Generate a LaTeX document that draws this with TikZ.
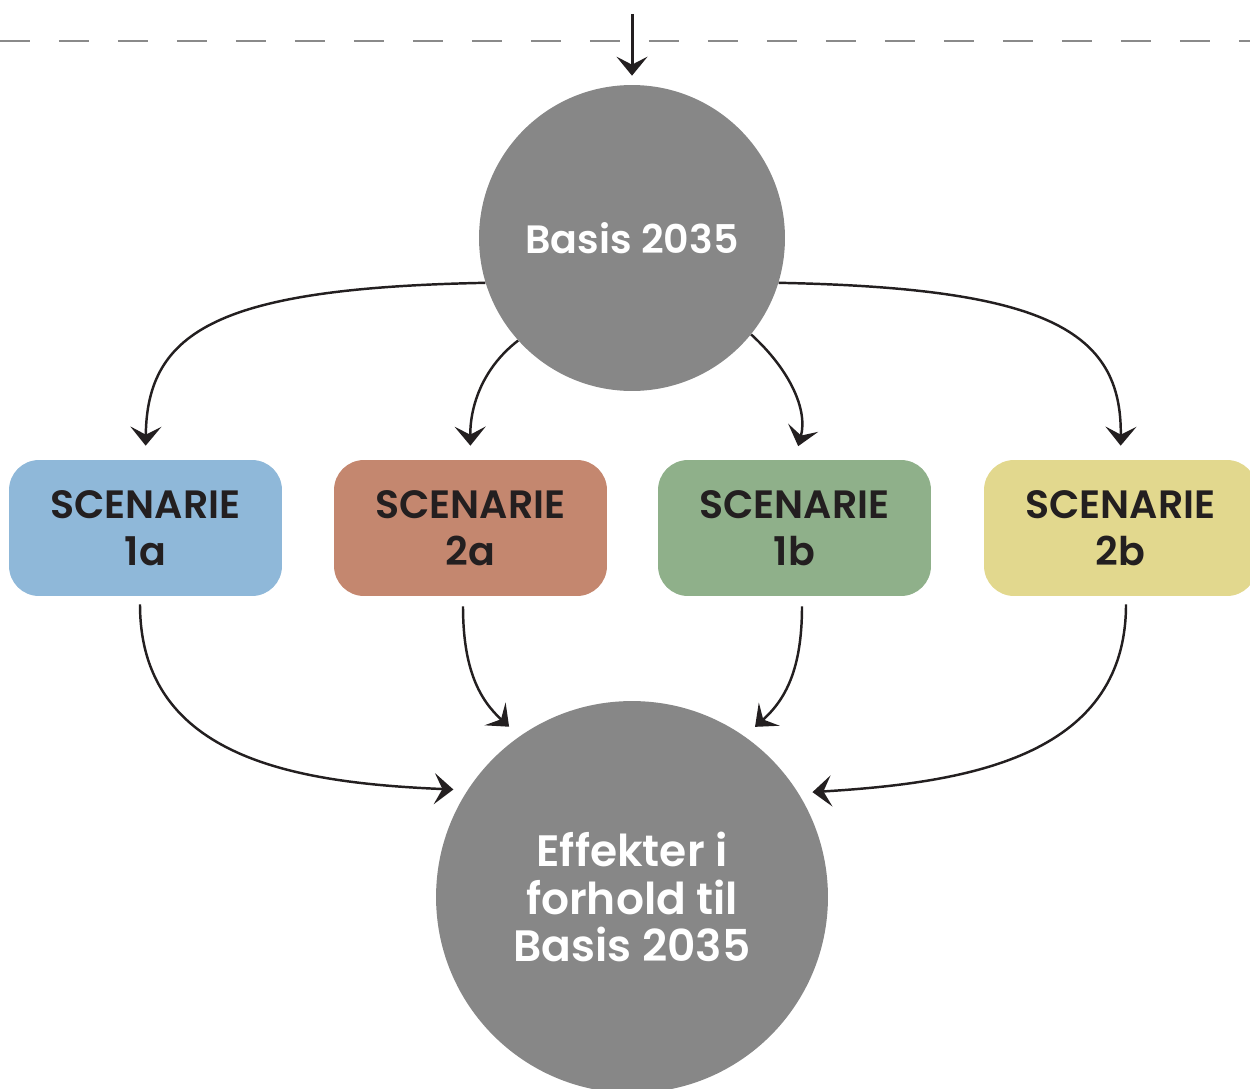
\documentclass[tikz,border=0pt]{standalone}
\usepackage{fontspec}
\setsansfont{Poppins}[BoldFont={Poppins SemiBold}]
\usetikzlibrary{arrows.meta}
\definecolor{circgray}{HTML}{878787}
\definecolor{inkdark}{HTML}{231F20}
\definecolor{dashgray}{HTML}{8A8A8A}
\definecolor{sc1a}{HTML}{8FB8D9}
\definecolor{sc2a}{HTML}{C4876F}
\definecolor{sc1b}{HTML}{8FB08A}
\definecolor{sc2b}{HTML}{E2D88E}
\begin{document}
\begin{tikzpicture}[x=0.02cm, y=-0.02cm, font=\sffamily\bfseries,
    flow/.style={line width=1.4pt, draw=inkdark, -{Stealth[length=0.38cm, width=0.62cm, inset=0.16cm]}},
    scenbox/.style={rounded corners=0.6cm, minimum width=5.46cm, minimum height=2.72cm,
        align=center, text=inkdark, font=\sffamily\bfseries\fontsize{22.5pt}{26.7pt}\selectfont},
    bigcirc/.style={circle, fill=circgray, text=white, align=center}]
    \clip (0,0) rectangle (1250,1088);

    % Dashed boundary
    \draw[dashgray, line width=1.5pt, dash pattern=on 0.6cm off 0.58cm] (0,41) -- (1250,41);

    % Circles
    \node[bigcirc, minimum size=6.12cm, font=\sffamily\bfseries\fontsize{22.5pt}{26pt}\selectfont] (basis) at (632,238) {Basis 2035};
    \node[bigcirc, minimum size=7.84cm, font=\sffamily\bfseries\fontsize{25pt}{27.3pt}\selectfont] (effekt) at (632,897) {Effekter i\\forhold til\\Basis 2035};

    % Scenarios
    \node[scenbox, fill=sc1a] (s1a) at (145.5,528) {SCENARIE\\1a};
    \node[scenbox, fill=sc2a] (s2a) at (470.5,528) {SCENARIE\\2a};
    \node[scenbox, fill=sc1b] (s1b) at (794.5,528) {SCENARIE\\1b};
    \node[scenbox, fill=sc2b] (s2b) at (1120.5,528) {SCENARIE\\2b};

    % Input arrow
    \coordinate (input) at (632,14);
    \draw[flow, line width=1.7pt, shorten >=0.18cm] (input) -- (basis.north);

    % Basis to scenarios
    \draw[flow, shorten >=0.28cm] (basis.197) .. controls (220,288) and (147,330) .. (s1a.north);
    \draw[flow, shorten >=0.28cm] (basis.222) .. controls (480,370) and (470,410) .. (s2a.north);
    \draw[flow, shorten >=0.28cm] (basis.321) .. controls (790,370) and (808,410) .. (s1b.north);
    \draw[flow, shorten >=0.28cm] (basis.343) .. controls (1045,288) and (1122,330) .. (s2b.north);

    % Scenarios to effects
    \draw[flow, shorten <=0.16cm, shorten >=0.28cm] ([xshift=-0.11cm]s1a.south) .. controls (140,760) and (300,783) .. (effekt.147);
    \draw[flow, shorten <=0.2cm, shorten >=0.28cm] ([xshift=-0.15cm]s2a.south) .. controls (463,670) and (480,700) .. (effekt.125);
    \draw[flow, shorten <=0.2cm, shorten >=0.28cm] ([xshift=0.15cm]s1b.south) .. controls (802,670) and (785,700) .. (effekt.55);
    \draw[flow, shorten <=0.16cm, shorten >=0.28cm] ([xshift=0.11cm]s2b.south) .. controls (1126,760) and (960,783) .. (effekt.32);
\end{tikzpicture}
\end{document}
